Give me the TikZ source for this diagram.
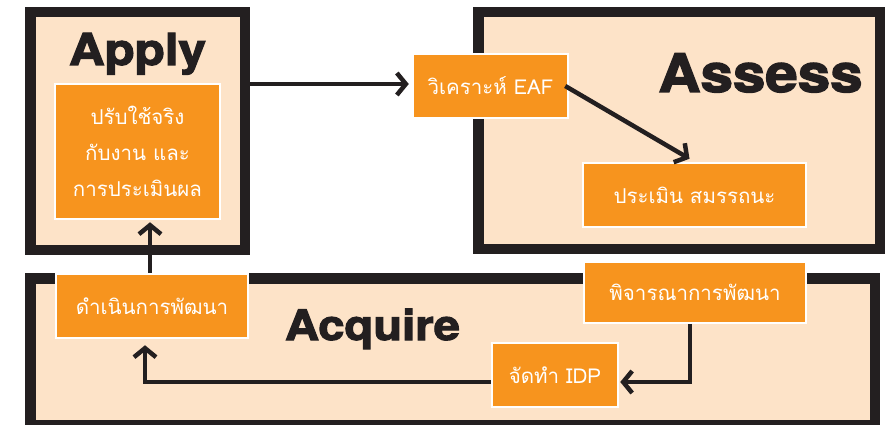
\documentclass[tikz,border=0pt]{standalone}
\usepackage{fontspec}
\newfontfamily\thai[Script=Thai]{Loma}
\newfontfamily\heavy[BoldFeatures={FakeBold=2.5}]{TeX Gyre Heros}
\usetikzlibrary{arrows.meta,calc}
\definecolor{orangeC}{HTML}{F7941E}
\definecolor{peach}{HTML}{FDE3C8}
\definecolor{ink}{HTML}{231F20}
\begin{document}
\begin{tikzpicture}[x=1pt,y=-1pt,
  frame/.style={draw=ink, fill=peach, line width=10.5pt, inner sep=0pt},
  box/.style={draw=white, fill=orangeC, line width=2.5pt, inner sep=0pt, align=center, text=white,
    font=\thai\fontsize{20.5}{36}\selectfont},
  title/.style={text=ink, inner sep=0pt},
  arr/.style={draw=ink, line width=4.5pt, line join=miter,
    -{Straight Barb[length=9pt,width=22pt,sharp]}}]
\fill[white] (0,0) rectangle (885,425);
\clip (0,0) rectangle (885,425);
% frames
\node[frame, minimum width=214.5pt, minimum height=237.5pt] (applyF) at (137.5,131) {};
\node[frame, minimum width=401.5pt, minimum height=236.5pt] (assessF) at (679,130.5) {};
\node[frame, minimum width=844.5pt, minimum height=147pt] (acquireF) at (452.5,351.75) {};
% titles
\node[title, anchor=base, font=\heavy\bfseries\fontsize{44}{44}\selectfont] (applyT) at (137.5,65) {\scalebox{1.12}[1]{Apply}};
\node[title, anchor=base, font=\heavy\bfseries\fontsize{53}{53}\selectfont] (assessT) at (760.5,92) {\scalebox{1.1}[1]{Assess}};
\node[title, anchor=base, font=\heavy\bfseries\fontsize{42}{42}\selectfont] (acquireT) at (372.5,340) {\scalebox{1.12}[1]{Acquire}};
% boxes
\node[box, minimum width=165pt, minimum height=135pt] (applyIn) at (137.5,151.5) {ปรับใช้จริง\\กับงาน และ\\การประเมินผล};
\node[box, minimum width=155pt, minimum height=64pt] (eaf) at (490.5,86) {วิเคราะห์ EAF};
\node[box, minimum width=223pt, minimum height=64pt] (perf) at (694.5,195) {ประเมิน สมรรถนะ};
\node[box, minimum width=192pt, minimum height=64pt] (dev) at (152,306) {ดำเนินการพัฒนา};
\node[box, minimum width=222pt, minimum height=61pt] (consider) at (695,292.5) {พิจารณาการพัฒนา};
\node[box, minimum width=126pt, minimum height=64pt] (idp) at (555,375) {จัดทำ IDP};
% connectors
\draw[arr, shorten >=3pt] (applyF.east |- 0,84) -- (eaf.west |- 0,84);
\draw[arr] ([xshift=-4pt]eaf.east) -- ([xshift=-5pt,yshift=3pt]perf.north);
\draw[arr, shorten >=2pt] ([xshift=-2pt]dev.north) -- ([xshift=-2pt]dev.north |- applyIn.south);
\draw[arr, shorten >=1pt] ([xshift=-5pt]consider.south) |- ([yshift=-7pt]idp.east);
\draw[arr, shorten >=6pt] ([yshift=-7pt]idp.west) -| ([xshift=-7pt]dev.south);
\end{tikzpicture}
\end{document}
